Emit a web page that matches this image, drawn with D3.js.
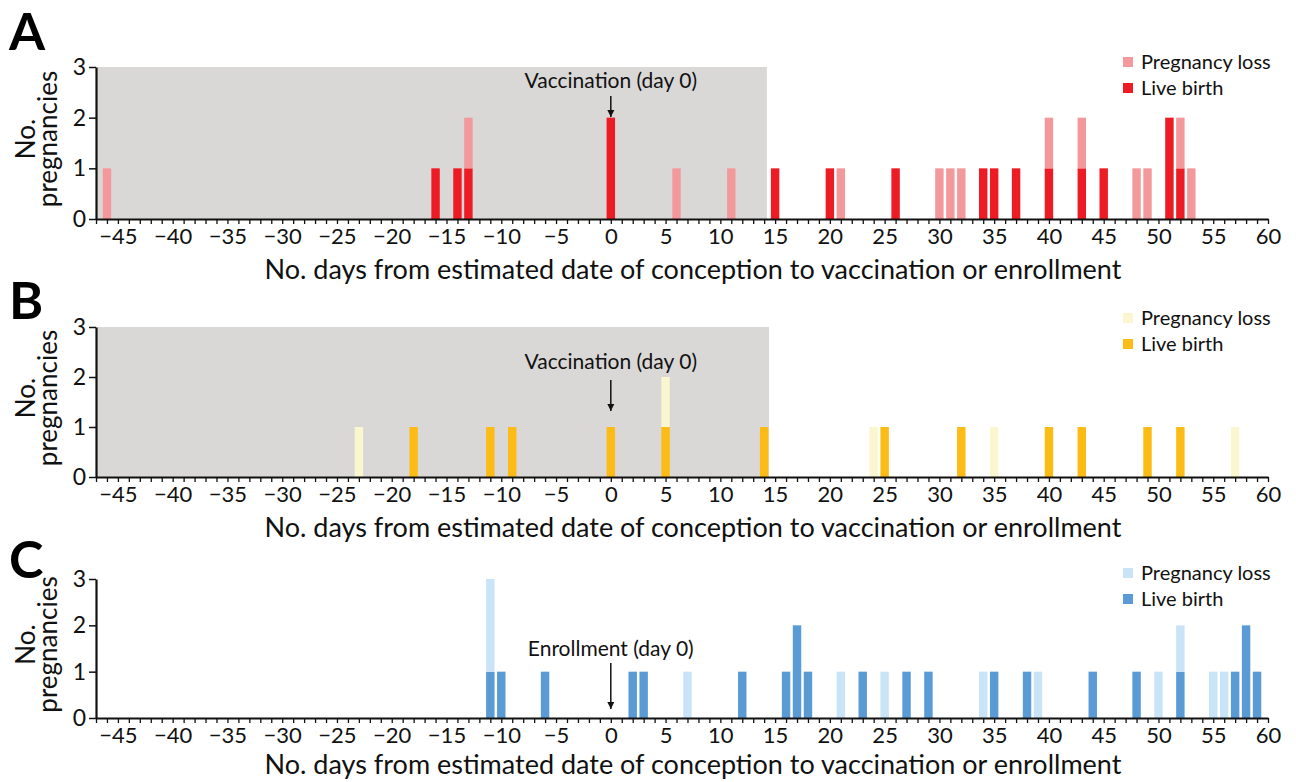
<!DOCTYPE html>
<html>
<head>
<meta charset="utf-8">
<script src="https://cdn.jsdelivr.net/npm/d3@7"></script>
<style>
  html, body { margin: 0; padding: 0; background: #fff; }
  svg { display: block; font-family: Lato, "Open Sans", sans-serif; }
</style>
</head>
<body>
<svg id="chart" width="1296" height="782"></svg>
<script>
// day offsets -> number of pregnancies
const dayDomain = [-47, 60];
const tickLabelDays = d3.range(-45, 61, 5);
const yTicks = [0, 1, 2, 3];

const liveBirthA = [[-16, 1], [-14, 1], [-13, 1], [0, 2], [15, 1], [20, 1], [26, 1], [34, 1], [35, 1],
    [37, 1], [40, 1], [43, 1], [45, 1], [51, 2], [52, 1]];
const lossA = [[-46, 1], [-13, 1], [6, 1], [11, 1], [21, 1], [30, 1], [31, 1], [32, 1], [40, 1],
    [43, 1], [48, 1], [49, 1], [52, 1], [53, 1]];

const liveBirthB = [[-18, 1], [-11, 1], [-9, 1], [0, 1], [5, 1], [14, 1], [25, 1], [32, 1], [40, 1],
    [43, 1], [49, 1], [52, 1]];
const lossB = [[-23, 1], [5, 1], [24, 1], [35, 1], [57, 1]];

const liveBirthC = [[-11, 1], [-10, 1], [-6, 1], [2, 1], [3, 1], [12, 1], [16, 1], [17, 2], [18, 1],
    [23, 1], [27, 1], [29, 1], [35, 1], [38, 1], [44, 1], [48, 1], [52, 1], [57, 1], [58, 2], [59, 1]];
const lossC = [[-11, 2], [7, 1], [21, 1], [25, 1], [34, 1], [39, 1], [50, 1], [52, 1], [55, 1], [56, 1]];

const panels = [
    { letter: 'A', live: liveBirthA, loss: lossA, shadeTo: 14.25, note: 'Vaccination (day 0)',
      liveColor: '#ed1c24', lossColor: '#f4999b', top: 67, bottom: 219, letterY: 50,
      noteY: 88, arrow: [96, 117], legendY: 62, titleGap: 60 },
    { letter: 'B', live: liveBirthB, loss: lossB, shadeTo: 14.45, note: 'Vaccination (day 0)',
      liveColor: '#fdbb16', lossColor: '#faf6d0', top: 327, bottom: 477, letterY: 319,
      noteY: 369, arrow: [380, 411], legendY: 318, titleGap: 60 },
    { letter: 'C', live: liveBirthC, loss: lossC, shadeTo: null, note: 'Enrollment (day 0)',
      liveColor: '#5b9bd5', lossColor: '#c9e4f6', top: 579, bottom: 718, letterY: 578,
      noteY: 656, arrow: [663, 709], legendY: 573, titleGap: 56 }
];

const svg = d3.select('#chart');

svg.append('defs').append('marker')
    .attr('id', 'arrowhead')
    .attr('viewBox', '0 0 10 10')
    .attr('refX', 10)
    .attr('refY', 5)
    .attr('markerWidth', 7)
    .attr('markerHeight', 8)
    .attr('markerUnits', 'userSpaceOnUse')
    .attr('orient', 'auto')
    .append('path')
    .attr('d', 'M0,0L10,5L0,10z')
    .attr('fill', '#111');

const xScale = d3.scaleLinear().domain(dayDomain).range([96, 1268]);
const barWidth = (xScale(1) - xScale(0)) * 0.77;

panels.forEach(p => {
    const yScale = d3.scaleLinear().domain([0, 3]).range([p.bottom, p.top]);
    const g = svg.append('g');

    // shaded vaccination window
    if (p.shadeTo !== null) {
        g.append('rect')
            .attr('x', xScale(dayDomain[0]))
            .attr('y', yScale(3))
            .attr('width', xScale(p.shadeTo) - xScale(dayDomain[0]))
            .attr('height', yScale(0) - yScale(3))
            .attr('fill', '#d9d8d6');
    }

    // stack: live birth at bottom, pregnancy loss on top
    const liveMap = new Map(p.live);
    const stacked = [];
    p.live.forEach(([day, n]) => stacked.push({ day, y0: 0, y1: n, color: p.liveColor }));
    p.loss.forEach(([day, n]) => {
        const base = liveMap.get(day) || 0;
        stacked.push({ day, y0: base, y1: base + n, color: p.lossColor });
    });

    g.selectAll('rect.bar')
        .data(stacked)
        .join('rect')
        .attr('class', 'bar')
        .attr('x', d => xScale(d.day) - barWidth / 2)
        .attr('width', barWidth)
        .attr('y', d => yScale(d.y1))
        .attr('height', d => yScale(d.y0) - yScale(d.y1))
        .attr('fill', d => d.color);

    // axes
    const xAxis = g.append('g')
        .attr('transform', `translate(0,${p.bottom})`)
        .call(d3.axisBottom(xScale)
            .tickValues(d3.range(dayDomain[0], dayDomain[1] + 1))
            .tickSize(5)
            .tickSizeOuter(0)
            .tickFormat(d => tickLabelDays.includes(d) ? d3.format('d')(d) : ''));
    xAxis.select('.domain').attr('stroke', '#111').attr('stroke-width', 2.2);
    xAxis.selectAll('.tick line').attr('stroke', '#111').attr('stroke-width', 1.3);
    xAxis.selectAll('.tick text')
        .attr('font-size', 22)
        .attr('fill', '#111')
        .attr('y', 9)
        .attr('font-family', 'Lato, sans-serif');

    const yAxis = g.append('g')
        .attr('transform', `translate(${xScale(dayDomain[0])},0)`)
        .call(d3.axisLeft(yScale).tickValues(yTicks).tickSize(7).tickSizeOuter(0)
            .tickFormat(d3.format('d')));
    yAxis.select('.domain').attr('stroke', '#111').attr('stroke-width', 2.2);
    yAxis.selectAll('.tick line').attr('stroke', '#111').attr('stroke-width', 1.5);
    yAxis.selectAll('.tick text')
        .attr('font-size', 23)
        .attr('fill', '#111')
        .attr('x', -10)
        .attr('font-family', 'Lato, sans-serif');

    // axis titles
    g.append('text')
        .attr('x', 693)
        .attr('y', p.bottom + p.titleGap)
        .attr('text-anchor', 'middle')
        .attr('font-size', 27)
        .attr('fill', '#111')
        .text('No. days from estimated date of conception to vaccination or enrollment');

    const yMid = (p.top + p.bottom) / 2 - 4;
    const yLabel = g.append('text')
        .attr('transform', `translate(0,${yMid}) rotate(-90)`)
        .attr('text-anchor', 'middle')
        .attr('font-size', 26)
        .attr('fill', '#111');
    yLabel.append('tspan').attr('x', 0).attr('y', 35).text('No.');
    yLabel.append('tspan').attr('x', 0).attr('y', 57).text('pregnancies');

    // panel letter
    g.append('text')
        .attr('x', 9)
        .attr('y', p.letterY)
        .attr('font-size', 52)
        .attr('font-weight', 700)
        .attr('fill', '#000')
        .text(p.letter);

    // day 0 annotation
    g.append('text')
        .attr('x', xScale(0))
        .attr('y', p.noteY)
        .attr('text-anchor', 'middle')
        .attr('font-size', 21)
        .attr('fill', '#111')
        .text(p.note);
    g.append('line')
        .attr('x1', xScale(0)).attr('x2', xScale(0))
        .attr('y1', p.arrow[0]).attr('y2', p.arrow[1])
        .attr('stroke', '#111')
        .attr('stroke-width', 1.5)
        .attr('marker-end', 'url(#arrowhead)');

    // legend
    const legend = g.append('g').attr('transform', `translate(1123,${p.legendY})`);
    [['Pregnancy loss', p.lossColor], ['Live birth', p.liveColor]].forEach(([label, color], i) => {
        legend.append('rect')
            .attr('x', 0)
            .attr('y', i * 26 - 5)
            .attr('width', 10)
            .attr('height', 10)
            .attr('fill', color);
        legend.append('text')
            .attr('x', 18)
            .attr('y', i * 26)
            .attr('dy', '0.35em')
            .attr('font-size', 20)
            .attr('fill', '#111')
            .text(label);
    });
});
</script>
</body>
</html>
